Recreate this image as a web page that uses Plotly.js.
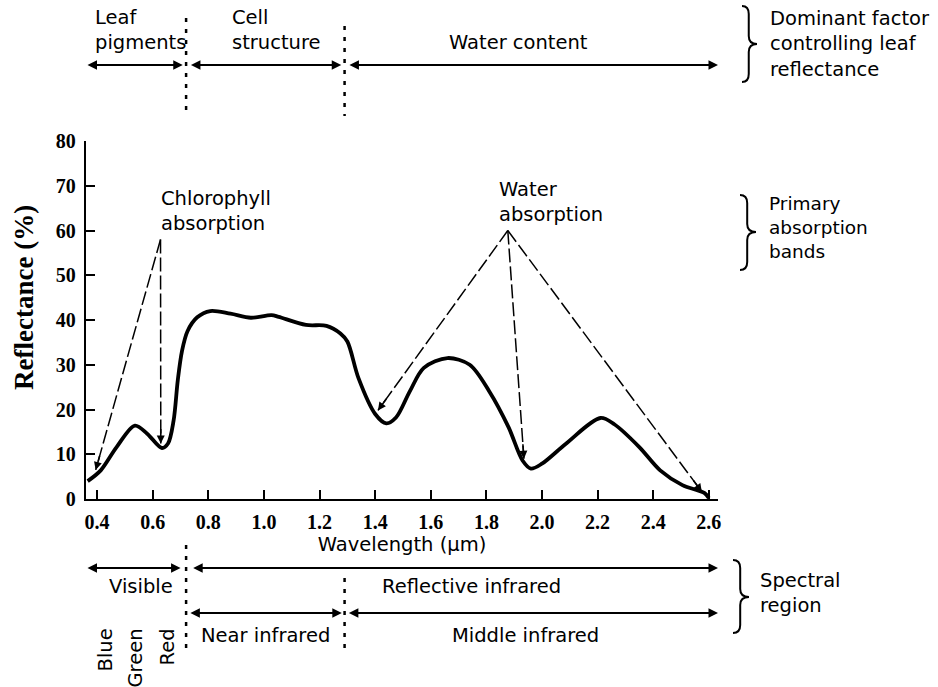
<!DOCTYPE html>
<html>
<head>
<meta charset="utf-8">
<script src="https://cdn.plot.ly/plotly-3.0.1.min.js"></script>
<style>html,body{margin:0;padding:0;background:#fff;}#chart{width:938px;height:687px;}</style>
</head>
<body>
<div id="chart"></div>
<script>
// ---- data ----
const wavelength = [0.366, 0.413, 0.47, 0.536, 0.58, 0.633, 0.655, 0.675, 0.69, 0.705, 0.725, 0.76, 0.807, 0.88, 0.953, 1.027, 1.053, 1.151, 1.225, 1.275, 1.30, 1.34, 1.40, 1.44, 1.475, 1.525, 1.575, 1.66, 1.74, 1.81, 1.88, 1.93, 1.96, 2.0, 2.085, 2.21, 2.26, 2.35, 2.425, 2.505, 2.585, 2.6];
const reflectance = [4.0, 6.4, 11.6, 16.4, 14.6, 11.4, 12.4, 17.5, 26.5, 33.0, 37.5, 40.6, 42.0, 41.4, 40.5, 41.1, 40.7, 38.9, 38.7, 37.0, 35.2, 27.0, 19.0, 16.9, 18.2, 24.1, 29.3, 31.5, 30.0, 24.1, 16.0, 8.6, 6.8, 7.9, 12.3, 18.1, 16.7, 11.6, 6.4, 3.1, 1.3, 0.2];

const xTickVals = [0.4, 0.6, 0.8, 1.0, 1.2, 1.4, 1.6, 1.8, 2.0, 2.2, 2.4, 2.6];
const xTickText = ['0.4', '0.6', '0.8', '1.0', '1.2', '1.4', '1.6', '1.8', '2.0', '2.2', '2.4', '2.6'];
const yTickVals = [0, 10, 20, 30, 40, 50, 60, 70, 80];

// absorption band pointers (apex of the dashed lines, and where they point)
const chlApexWl = 0.628, chlApexRefl = 58;
const chlTargetWl = [0.395, 0.629];
const chlTargetRefl = [6.5, 12.4];
const waterApexWl = 1.877, waterApexRefl = 60;
const waterTargetWl = [1.41, 1.935, 2.575];
const waterTargetRefl = [19.8, 9.0, 1.6];

// region boundaries along the wavelength axis (µm)
const xStart = 0.36, xEnd = 2.633;
const boundaryPigmentCell = 0.72;
const boundaryCellWater = 1.29;
const factorNames = ['Leaf<br>pigments', 'Cell<br>structure', 'Water content'];
const spectralTop = ['Visible', 'Reflective infrared'];
const spectralBottom = ['Near infrared', 'Middle infrared'];
const colourBands = ['Blue', 'Green', 'Red'];

// ---- layout helpers (pixel -> paper) ----
const L = 86, R = 718, T = 141, B = 499;
const pX = p => (p - L) / (R - L);
const pY = p => (B - p) / (B - T);
const pxPerX = (R - L) / (xEnd - xStart);
const pxPerY = (B - T) / 80;

const SANS = 'DejaVu Sans, sans-serif';
const SERIF = 'Liberation Serif, serif';
const txtFont = {family: SANS, size: 19.5, color: '#000'};

const annotations = [];
const shapes = [];

function label(text, xpx, ypx, xanchor, extra) {
  annotations.push(Object.assign({
    text: text, xref: 'paper', yref: 'paper', x: pX(xpx), y: pY(ypx),
    xanchor: xanchor, yanchor: 'middle', align: 'left', showarrow: false, font: txtFont
  }, extra || {}));
}

function bandArrow(x0, x1, ypx) {
  annotations.push({
    text: '', xref: 'x', yref: 'paper', x: x1, y: pY(ypx),
    axref: 'x', ayref: 'pixel', ax: x0, ay: 0,
    showarrow: true, arrowside: 'end+start', arrowhead: 2, arrowsize: 0.95, arrowwidth: 2,
    arrowcolor: '#000', standoff: 0, startstandoff: 0
  });
}

function dotted(xd, y0px, y1px) {
  shapes.push({type: 'line', xref: 'x', yref: 'paper', x0: xd, x1: xd, y0: pY(y0px), y1: pY(y1px),
    line: {color: '#000', width: 2.5, dash: '4px,7px'}});
}

function pointer(apexX, apexY, tx, ty) {
  shapes.push({type: 'line', xref: 'x', yref: 'y', x0: apexX, y0: apexY, x1: tx, y1: ty,
    line: {color: '#000', width: 1.5, dash: '14px,4px'}});
  const dx = (apexX - tx) * pxPerX, dy = -(apexY - ty) * pxPerY;
  const len = Math.hypot(dx, dy);
  annotations.push({
    text: '', xref: 'x', yref: 'y', x: tx, y: ty, axref: 'pixel', ayref: 'pixel',
    ax: dx / len * 16, ay: dy / len * 16, showarrow: true, arrowhead: 2,
    arrowsize: 1, arrowwidth: 1.6, arrowcolor: '#000', standoff: 0
  });
}

function brace(x0, w, ytop, ybot, ytip) {
  const xm = x0 + w * 0.45, r = 8;
  const P = (x, y) => pX(x) + ',' + pY(y);
  const path = 'M' + P(x0, ytop) +
    ' Q' + P(xm, ytop) + ' ' + P(xm, ytop + r) +
    ' L' + P(xm, ytip - r) +
    ' Q' + P(xm, ytip) + ' ' + P(x0 + w, ytip) +
    ' Q' + P(xm, ytip) + ' ' + P(xm, ytip + r) +
    ' L' + P(xm, ybot - r) +
    ' Q' + P(xm, ybot) + ' ' + P(x0, ybot);
  shapes.push({type: 'path', xref: 'paper', yref: 'paper', path: path, line: {color: '#000', width: 2}});
}

// ---- top: dominant factor ----
const gap = 0.012;
label(factorNames[0], 93, 30, 'left');
label(factorNames[1], 230, 30, 'left');
label(factorNames[2], 518, 42, 'center');
bandArrow(xStart, boundaryPigmentCell - gap, 65);
bandArrow(boundaryPigmentCell + gap, boundaryCellWater - gap, 65);
bandArrow(boundaryCellWater + gap, xEnd, 65);
dotted(boundaryPigmentCell, 18, 116);
dotted(boundaryCellWater, 26, 116);
brace(742, 15, 6, 82, 44);
label('Dominant factor<br>controlling leaf<br>reflectance', 768, 44, 'left');

// ---- absorption pointers ----
label('Chlorophyll<br>absorption', 159, 211, 'left');
label('Water<br>absorption', 497, 202, 'left');
chlTargetWl.forEach((w, i) => pointer(chlApexWl, chlApexRefl, w, chlTargetRefl[i]));
waterTargetWl.forEach((w, i) => pointer(waterApexWl, waterApexRefl, w, waterTargetRefl[i]));
brace(740, 16, 195, 270, 232);
label('Primary<br>absorption<br>bands', 767, 227, 'left', {font: {family: SANS, size: 18.5, color: '#000'}});

// ---- y title (placed like the original, a bit above the axis centre) ----
annotations.push({text: 'Reflectance (%)', xref: 'paper', yref: 'paper', x: pX(24), y: pY(298),
  xanchor: 'center', yanchor: 'middle', textangle: -90, showarrow: false,
  font: {family: SERIF, size: 27, color: '#000', weight: 'bold'}});

// ---- bottom: spectral region ----
bandArrow(xStart, boundaryPigmentCell - 0.02, 568);
bandArrow(boundaryPigmentCell + 0.02, xEnd, 568);
bandArrow(boundaryPigmentCell + 0.01, boundaryCellWater - 0.01, 613);
bandArrow(boundaryCellWater + 0.01, xEnd, 613);
dotted(boundaryPigmentCell, 545, 648);
dotted(boundaryCellWater, 578, 648);
label(spectralTop[0], 175, 586, 'right');
label(spectralTop[1], 471, 586, 'center');
label(spectralBottom[0], 199, 635, 'left');
label(spectralBottom[1], 525, 635, 'center');
[105, 135, 167].forEach((xp, i) => {
  annotations.push({text: colourBands[i], xref: 'paper', yref: 'paper', x: pX(xp), y: pY(627),
    xanchor: 'center', yanchor: 'top', textangle: -90, showarrow: false, font: txtFont});
});
brace(733, 16, 560, 633, 597);
label('Spectral<br>region', 758, 593, 'left');

const trace = {
  x: wavelength, y: reflectance, type: 'scatter', mode: 'lines',
  line: {color: '#000', width: 3.8, shape: 'spline', smoothing: 0.9}, hoverinfo: 'skip'
};

const layout = {
  width: 938, height: 687,
  margin: {l: L, r: 938 - R, t: T, b: 687 - B, pad: 0},
  paper_bgcolor: '#fff', plot_bgcolor: '#fff',
  showlegend: false,
  xaxis: {
    range: [xStart, xEnd], tickmode: 'array', tickvals: xTickVals, ticktext: xTickText,
    ticks: 'inside', ticklen: 9, tickwidth: 2, tickcolor: '#000',
    showline: true, linecolor: '#000', linewidth: 2.2, showgrid: false, zeroline: false,
    tickfont: {family: SERIF, size: 20, color: '#000', weight: 'bold'},
    ticklabelstandoff: 4,
    title: {text: 'Wavelength (μm)', font: {family: SANS, size: 19.5, color: '#000'}, standoff: 4}
  },
  yaxis: {
    range: [0, 80], tickmode: 'array', tickvals: yTickVals,
    ticks: 'inside', ticklen: 9, tickwidth: 2, tickcolor: '#000',
    showline: true, linecolor: '#000', linewidth: 2.2, showgrid: false, zeroline: false,
    tickfont: {family: SERIF, size: 20, color: '#000', weight: 'bold'},
    ticklabelstandoff: 4
  },
  annotations: annotations,
  shapes: shapes
};

Plotly.newPlot('chart', [trace], layout, {displayModeBar: false, staticPlot: true});
</script>
</body>
</html>
